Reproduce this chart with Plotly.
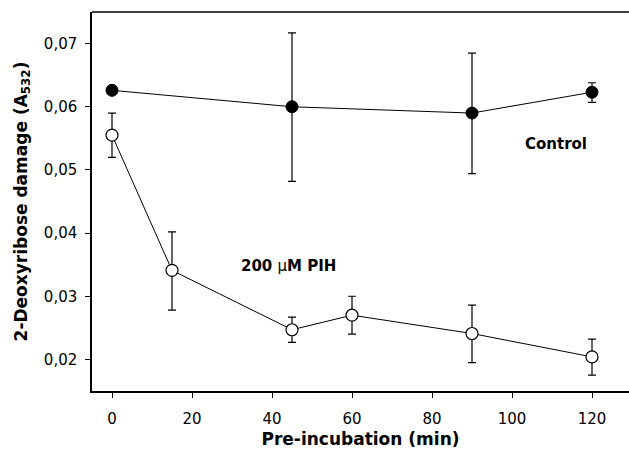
import plotly.graph_objects as go

time_control = [0, 45, 90, 120]
control_mean = [0.0626, 0.0600, 0.0590, 0.0623]
control_err_plus = [0.0, 0.0117, 0.0095, 0.0015]
control_err_minus = [0.0, 0.0118, 0.0096, 0.0016]

time_pih = [0, 15, 45, 60, 90, 120]
pih_mean = [0.0555, 0.0341, 0.0247, 0.0270, 0.0241, 0.0204]
pih_err_plus = [0.0035, 0.0061, 0.0020, 0.0030, 0.0045, 0.0028]
pih_err_minus = [0.0035, 0.0063, 0.0020, 0.0030, 0.0046, 0.0029]

x_ticks = [0, 20, 40, 60, 80, 100, 120]
y_ticks = [0.02, 0.03, 0.04, 0.05, 0.06, 0.07]

FONT = "DejaVu Sans, Liberation Sans, Arial, sans-serif"

fig = go.Figure()
fig.add_trace(go.Scatter(
    x=time_pih, y=pih_mean, mode="lines+markers",
    line=dict(color="black", width=1),
    marker=dict(symbol="circle", size=12, color="white", line=dict(color="black", width=1.2)),
    error_y=dict(type="data", symmetric=False, array=pih_err_plus, arrayminus=pih_err_minus,
                 color="black", thickness=1.2, width=4),
    showlegend=False))
fig.add_trace(go.Scatter(
    x=time_control, y=control_mean, mode="lines+markers",
    line=dict(color="black", width=1),
    marker=dict(symbol="circle", size=12, color="black", line=dict(color="black", width=1)),
    error_y=dict(type="data", symmetric=False, array=control_err_plus, arrayminus=control_err_minus,
                 color="black", thickness=1.2, width=4),
    showlegend=False))

fig.add_annotation(x=111, y=0.0541, text="<b>Control</b>", showarrow=False,
                   xanchor="center", yanchor="middle", font=dict(size=15, color="black", family=FONT))
fig.add_annotation(x=44, y=0.0348, text="<b>200 </b>μ<b>M PIH</b>", showarrow=False,
                   xanchor="center", yanchor="middle", font=dict(size=15, color="black", family=FONT))

fig.add_shape(type="line", xref="paper", yref="paper", x0=0, x1=1, y0=1, y1=1,
              line=dict(color="black", width=1.5))

fig.update_layout(
    width=629, height=452,
    margin=dict(l=92, r=0, t=12, b=61),
    paper_bgcolor="white", plot_bgcolor="white",
    separators=",.",
    font=dict(family=FONT, size=15, color="black"),
    xaxis=dict(range=[-5, 129.25], tickvals=x_ticks, ticks="outside", ticklen=5, tickwidth=1.2,
               tickcolor="black", showline=True, linecolor="black", linewidth=1.5,
               showgrid=False, zeroline=False, ticklabelstandoff=8,
               title=dict(text="<b>Pre-incubation (min)</b>", font=dict(size=17), standoff=6),
               tickfont=dict(size=15)),
    yaxis=dict(range=[0.015, 0.075], tickvals=y_ticks, tickformat=".2f", ticks="outside",
               ticklen=5, tickwidth=1.2, tickcolor="black", showline=True, linecolor="black",
               linewidth=1.5, showgrid=False, zeroline=False, ticklabelstandoff=5,
               title=dict(text="<b>2-Deoxyribose damage (A<sub>532</sub>)</b>", font=dict(size=17), standoff=12),
               tickfont=dict(size=15)),
)

fig.write_html("out.html")
